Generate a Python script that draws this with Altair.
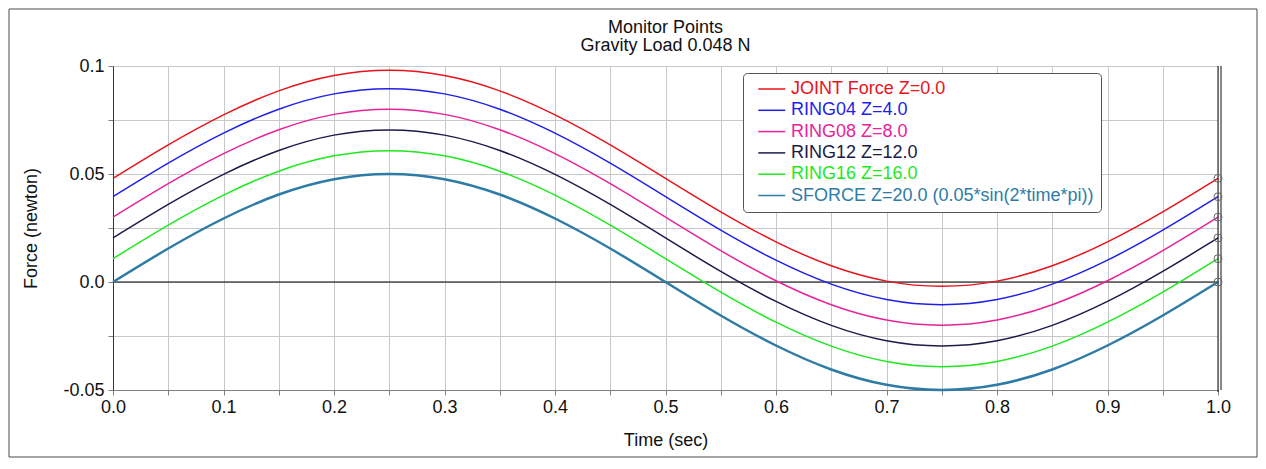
import altair as alt
import pandas as pd

# ---------------- data ----------------
times = [0.0, 0.05, 0.1, 0.15, 0.2, 0.25, 0.3, 0.35, 0.4, 0.45, 0.5,
         0.55, 0.6, 0.65, 0.7, 0.75, 0.8, 0.85, 0.9, 0.95, 1.0]

series_names = [
    "JOINT Force Z=0.0",
    "RING04 Z=4.0",
    "RING08 Z=8.0",
    "RING12 Z=12.0",
    "RING16 Z=16.0",
    "SFORCE Z=20.0 (0.05*sin(2*time*pi))",
]
series_colors = ["#e8131b", "#1f1fe8", "#e8229a", "#1b1b4a", "#1ee81e", "#2e7ca6"]

joint = [0.048, 0.0635, 0.0774, 0.0885, 0.0956, 0.098, 0.0956, 0.0885, 0.0774, 0.0635, 0.048,
         0.0325, 0.0186, 0.0075, 0.0004, -0.002, 0.0004, 0.0075, 0.0186, 0.0325, 0.048]
ring04 = [0.0395, 0.055, 0.0689, 0.080, 0.0871, 0.0895, 0.0871, 0.080, 0.0689, 0.055, 0.0395,
          0.024, 0.0101, -0.001, -0.0081, -0.0105, -0.0081, -0.001, 0.0101, 0.024, 0.0395]
ring08 = [0.030, 0.0455, 0.0594, 0.0705, 0.0776, 0.080, 0.0776, 0.0705, 0.0594, 0.0455, 0.030,
          0.0145, 0.0006, -0.0105, -0.0176, -0.020, -0.0176, -0.0105, 0.0006, 0.0145, 0.030]
ring12 = [0.0204, 0.0359, 0.0498, 0.0609, 0.068, 0.0704, 0.068, 0.0609, 0.0498, 0.0359, 0.0204,
          0.0049, -0.009, -0.0201, -0.0272, -0.0296, -0.0272, -0.0201, -0.009, 0.0049, 0.0204]
ring16 = [0.0108, 0.0263, 0.0402, 0.0513, 0.0584, 0.0608, 0.0584, 0.0513, 0.0402, 0.0263, 0.0108,
          -0.0047, -0.0186, -0.0297, -0.0368, -0.0392, -0.0368, -0.0297, -0.0186, -0.0047, 0.0108]
sforce = [0.0, 0.0155, 0.0294, 0.0405, 0.0476, 0.05, 0.0476, 0.0405, 0.0294, 0.0155, 0.0,
          -0.0155, -0.0294, -0.0405, -0.0476, -0.05, -0.0476, -0.0405, -0.0294, -0.0155, 0.0]

x_ticks = [0.0, 0.05, 0.1, 0.15, 0.2, 0.25, 0.3, 0.35, 0.4, 0.45, 0.5,
           0.55, 0.6, 0.65, 0.7, 0.75, 0.8, 0.85, 0.9, 0.95, 1.0]
y_ticks = [-0.05, -0.025, 0.0, 0.025, 0.05, 0.075, 0.1]

title_lines = ["Monitor Points", "Gravity Load 0.048 N"]

rows = []
for name, vals in zip(series_names, [joint, ring04, ring08, ring12, ring16, sforce]):
    for t, v in zip(times, vals):
        rows.append({"time": t, "series": name, "force": v})
df = pd.DataFrame(rows)

# ---------------- styling ----------------
W, H = 1105, 324
FONT = "Liberation Sans"
TXT = "#111111"
FS = 18

x_axis = alt.Axis(
    values=x_ticks,
    labelExpr="round(datum.value*20) % 2 == 0 ? format(datum.value, '.1f') : ''",
    title="Time (sec)",
    grid=True, gridColor="#c8c8c8", gridWidth=1,
    domainColor="#808080", tickColor="#808080", tickSize=5,
    labelFont=FONT, labelFontSize=FS, labelColor=TXT, labelPadding=3,
    labelFlush=False, labelOverlap=False,
    titleFont=FONT, titleFontSize=FS, titleFontWeight="normal", titleColor=TXT,
    titlePadding=15,
)
y_axis = alt.Axis(
    values=y_ticks,
    labelExpr="round(datum.value*40) % 2 == 0 ? (datum.value == 0 ? '0.0' : ((datum.value < 0 ? '-' : '') + format(abs(datum.value), '~g'))) : ''",
    title="Force (newton)",
    grid=True, gridColor="#c8c8c8", gridWidth=1,
    domainColor="#333333", tickColor="#808080", tickSize=5,
    labelFont=FONT, labelFontSize=FS, labelColor=TXT, labelPadding=4,
    labelFlush=False, labelOverlap=False,
    titleFont=FONT, titleFontSize=FS, titleFontWeight="normal", titleColor=TXT,
    titlePadding=22,
)

x_enc = alt.X("time:Q", scale=alt.Scale(domain=[0, 1], nice=False, zero=False), axis=x_axis)
y_enc = alt.Y("force:Q", scale=alt.Scale(domain=[-0.05, 0.1], nice=False), axis=y_axis)

label_color_expr = ""
for n, c in zip(series_names[:-1], series_colors[:-1]):
    label_color_expr += f"datum.label == '{n}' ? '{c}' : "
label_color_expr += f"'{series_colors[-1]}'"

legend = alt.Legend(
    title=None, orient="none", legendX=630, legendY=7,
    direction="vertical",
    symbolType="M-1,0H3", symbolSize=182, symbolStrokeWidth=1.5, symbolOffset=6,
    labelFont=FONT, labelFontSize=18, labelLimit=400, labelOffset=17,
    labelColor={"expr": label_color_expr},
    rowPadding=3.3, padding=7,
    strokeColor="#555555", fillColor="#ffffff", cornerRadius=4,
)

one = pd.DataFrame({"a": [0]})

border = alt.Chart(one).mark_rect(fillOpacity=0, stroke="#4a4a4a", strokeWidth=1).encode(
    x=alt.value(-104), x2=alt.value(1144), y=alt.value(-57), y2=alt.value(391)
)

title1 = alt.Chart(one).mark_text(
    text=title_lines[0], font=FONT, fontSize=FS, color=TXT, align="center", baseline="middle"
).encode(x=alt.value(W / 2), y=alt.value(-38))
title2 = alt.Chart(one).mark_text(
    text=title_lines[1], font=FONT, fontSize=FS, color=TXT, align="center", baseline="middle"
).encode(x=alt.value(W / 2), y=alt.value(-20))

zero_line = alt.Chart(pd.DataFrame({"force": [0.0]})).mark_rule(color="#000000", strokeWidth=1).encode(
    y=y_enc
)

lines = alt.Chart(df).mark_line(interpolate="natural").encode(
    x=x_enc,
    y=y_enc,
    color=alt.Color("series:N", scale=alt.Scale(domain=series_names, range=series_colors), legend=legend),
    strokeWidth=alt.condition(alt.datum.series == series_names[-1], alt.value(2.5), alt.value(1.5)),
)

right_rule = alt.Chart(pd.DataFrame({"time": [1.0]})).mark_rule(color="#111111", strokeWidth=1).encode(
    x=x_enc, y=alt.value(0), y2=alt.value(H + 2)
)
right_rule2 = alt.Chart(one).mark_rule(color="#111111", strokeWidth=1).encode(
    x=alt.value(W + 3), y=alt.value(0), y2=alt.value(H)
)

end_points = alt.Chart(df).transform_filter("datum.time == 1").mark_point(
    shape="circle", filled=False, size=64, color="#666666", strokeWidth=1, opacity=1
).encode(x=x_enc, y=y_enc)

chart = alt.layer(border, title1, title2, zero_line, lines, right_rule, right_rule2, end_points).properties(
    width=W, height=H,
    padding={"left": 105, "top": 58, "right": 40, "bottom": 68},
    autosize=alt.AutoSizeParams(type="none"),
).configure_view(stroke="#999999", strokeWidth=1)

chart.save("out.html", embed_options={"renderer": "svg", "actions": False})
